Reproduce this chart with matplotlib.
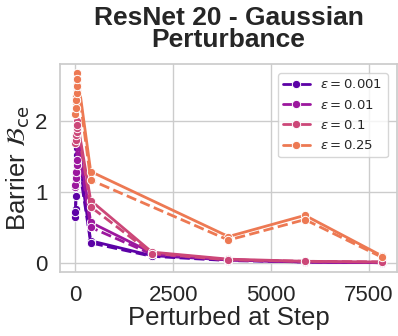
import numpy as np
import matplotlib
matplotlib.use("Agg")
import matplotlib.pyplot as plt
import seaborn as sns

# langkah perturbasi (beberapa langkah awal, lalu tiap epoch tertentu)
steps = [0, 10, 20, 30, 40, 50, 391, 1955, 3910, 5865, 7820]
epsilons = ["0.001", "0.01", "0.1", "0.25"]

# garis utuh
solid_0001 = [0.64, 0.76, 1.10, 1.28, 1.42, 1.63, 0.31, 0.10, 0.04, 0.01, 0.00]
solid_001 = [1.07, 1.15, 1.25, 1.35, 1.43, 1.84, 0.57, 0.14, 0.04, 0.01, 0.00]
solid_01 = [1.72, 1.78, 1.81, 1.90, 1.95, 2.00, 0.88, 0.15, 0.05, 0.02, 0.01]
solid_025 = [2.10, 2.27, 2.36, 2.44, 2.53, 2.68, 1.29, np.nan, 0.37, 0.67, 0.10]

# garis putus-putus
dash_0001 = [0.72, 0.95, 1.15, 1.30, 1.40, 1.52, 0.28, 0.09, 0.03, 0.01, 0.00]
dash_001 = [1.10, 1.20, 1.28, 1.38, 1.45, 1.75, 0.50, 0.12, 0.04, 0.01, 0.00]
dash_01 = [1.70, 1.74, 1.80, 1.85, 1.90, 1.95, 0.79, 0.13, 0.04, 0.02, 0.01]
dash_025 = [2.10, 2.19, 2.30, 2.40, 2.50, 2.60, 1.17, np.nan, 0.32, 0.61, 0.08]

solid = [solid_0001, solid_001, solid_01, solid_025]
dashed = [dash_0001, dash_001, dash_01, dash_025]

sns.set_theme(style="whitegrid")
plt.rcParams["font.family"] = ["Liberation Sans", "DejaVu Sans"]
plt.rcParams["mathtext.fontset"] = "dejavusans"

colors = sns.color_palette("plasma", 5)[:4]

fig, ax = plt.subplots(figsize=(3.98, 3.36), dpi=100)
fig.subplots_adjust(left=0.151, right=0.997, bottom=0.19, top=0.81)

x = np.array(steps, dtype=float)
for eps, ys, yd, c in zip(epsilons, solid, dashed, colors):
    for vals, ls, lab in [(ys, "-", rf"$\epsilon = {eps}$"), (yd, "--", None)]:
        v = np.array(vals, dtype=float)
        ok = ~np.isnan(v)
        ax.plot(x[ok], v[ok], ls, color=c, lw=2, marker="o", ms=6,
                mec="white", mew=0.7, label=lab)

ax.set_yticks([0, 1, 2])
ax.set_xticks([0, 2500, 5000, 7500])
ax.tick_params(labelsize=16, pad=3)
ax.set_xlabel("Perturbed at Step", fontsize=18.5, labelpad=0)
ax.set_ylabel(r"Barrier $\mathcal{B}_{\rm ce}$", fontsize=18.5, labelpad=2)
ax.set_title("ResNet 20 - Gaussian\nPerturbance", fontsize=19,
             fontweight="bold", color="#262626", linespacing=0.9, pad=12)
ax.legend(loc="upper right", fontsize=9.5, handlelength=2.0,
          borderaxespad=0.7, labelspacing=0.55)

fig.savefig("out.png", dpi=100)
